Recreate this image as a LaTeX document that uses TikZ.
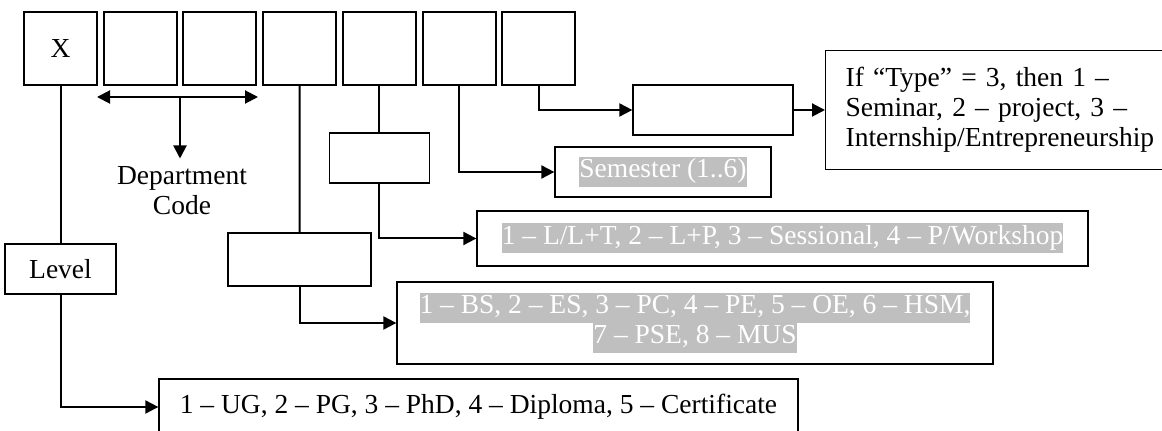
\documentclass[tikz,border=0pt]{standalone}
\usepackage{fontspec}
\setmainfont{Liberation Serif}
\usetikzlibrary{arrows.meta}
\definecolor{hlgray}{RGB}{191,191,191}
\newcommand\hl[1]{{\setlength\fboxsep{0pt}\colorbox{hlgray}{\strut#1}}}
\begin{document}
\begin{tikzpicture}[x=0.5pt,y=-0.5pt,>={Triangle[length=6.5pt,width=6.5pt]},
    font=\fontsize{13.75}{15}\selectfont,
    digit/.style={draw,line width=1pt,minimum width=36.5pt,minimum height=36.5pt,inner sep=0pt},
    field/.style={draw,line width=0.65pt,inner sep=0pt},
    code/.style={field,text=white},
    conn/.style={line width=1pt}]

    \useasboundingbox(0,0)rectangle(1162,431);

    \node[digit](d1)at(60.5,48.5){X};
    \foreach\i in{2,...,7}\node[digit](d\i)at({60.5+79.7*(\i-1)},48.5){};

    \coordinate(dl)at(97,97);
    \coordinate(dr)at(258,97);
    \coordinate(dc)at(180,97);
    \node[align=center,anchor=north,inner sep=4pt](dept)at(182,158.5){Department\\Code};

    \node[field,minimum width=55.5pt,minimum height=25pt](level)at(60.5,269){Level};
    \node[field,minimum width=71.5pt,minimum height=26.5pt](catbox)at(299.6,259.5){};
    \node[field,minimum width=50pt,minimum height=25pt](typebox)at(379.3,158){};
    \node[field,minimum width=80pt,minimum height=25pt](numbox)at(713,110){};

    \node[field,minimum width=319.5pt,minimum height=28pt](levelopt)at(478.5,407){1 – UG, 2 – PG, 3 – PhD, 4 – Diploma, 5 – Certificate};
    \node[code,align=center,minimum width=298pt,minimum height=41pt](catopt)at(695,323){\hl{1 – BS, 2 – ES, 3 – PC, 4 – PE, 5 – OE, 6 – HSM,}\\\hl{7 – PSE, 8 – MUS}};
    \node[code,minimum width=305.5pt,minimum height=27.5pt](typeopt)at(782.5,238.5){\hl{1 – L/L+T, 2 – L+P, 3 – Sessional, 4 – P/Workshop}};
    \node[code,minimum width=108pt,minimum height=25pt](semopt)at(663,172){\hl{Semester (1..6)}};
    \node[field,align=left,text width=160pt,inner xsep=10pt,minimum height=59.5pt,anchor=west](numopt)at(825,110){If “Type” = 3, then 1 –\\Seminar, 2 – project, 3 –\\Internship/Entrepreneurship};

    \draw[conn,<->](dl)--(dr);
    \draw[conn,->](dc)--(dc|-dept.north);
    \draw[conn](d1)--(level);
    \draw[conn,->](level)|-(levelopt);
    \draw[conn](d4)--(catbox);
    \draw[conn,->](catbox)|-(catopt);
    \draw[conn](d5)--(typebox);
    \draw[conn,->](typebox)|-(typeopt);
    \draw[conn,->](d6)|-(semopt);
    \draw[conn,->](d7)|-(numbox);
    \draw[conn,->](numbox)--(numopt);
  \end{tikzpicture}
\end{document}
